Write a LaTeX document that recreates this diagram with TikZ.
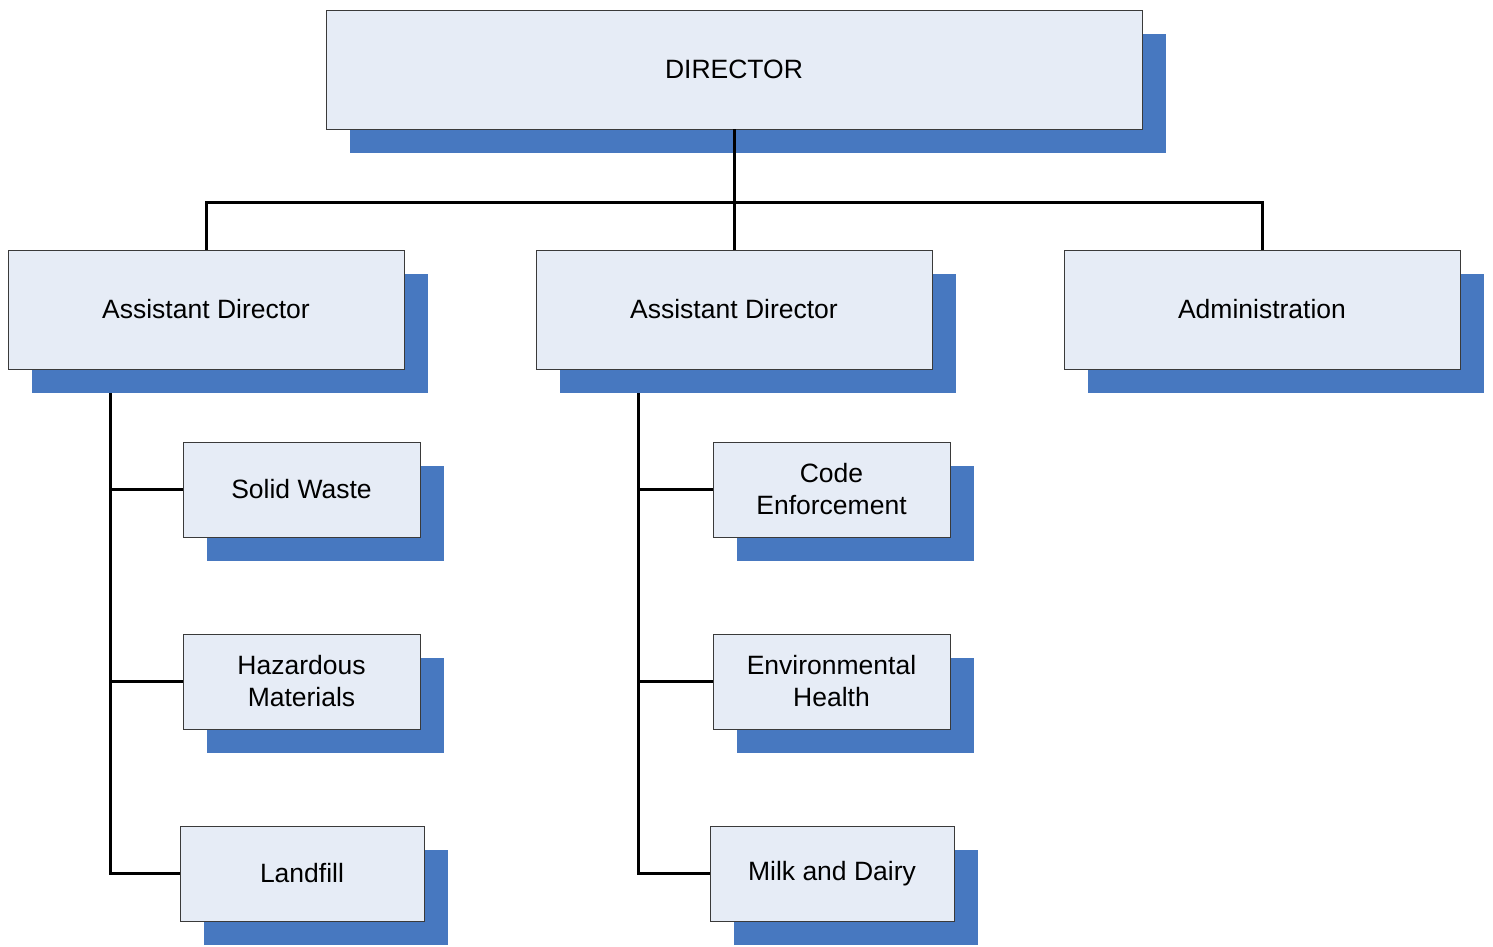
\documentclass[tikz,border=0pt]{standalone}
\usepackage{fontspec}
\setmainfont{Liberation Sans}
\usetikzlibrary{shadows}
\definecolor{boxfill}{HTML}{E6ECF6}
\definecolor{shd}{HTML}{4778C0}
\definecolor{boxline}{HTML}{3A3A3A}
\tikzset{
  box/.style={draw=boxline, line width=1pt, fill=boxfill, inner sep=0pt, outer sep=0pt,
    align=center, font=\fontsize{26.5}{32}\selectfont,
    general shadow={fill=shd, shadow xshift=24pt, shadow yshift=-24pt}},
  conn/.style={line width=3pt, black}
}
\begin{document}
\begin{tikzpicture}[x=1pt,y=-1pt]
\useasboundingbox (0,0) rectangle (1493,946);
\node[box, minimum width=816pt, minimum height=119pt] (dir) at (734,69.5) {DIRECTOR};
\node[box, minimum width=396pt, minimum height=119pt] (ad1) at (206,309.5) {Assistant Director};
\node[box, minimum width=396pt, minimum height=119pt] (ad2) at (734,309.5) {Assistant Director};
\node[box, minimum width=396pt, minimum height=119pt] (adm) at (1262,309.5) {Administration};
\node[box, minimum width=237pt, minimum height=95pt] (sw) at (301.5,489.5) {Solid Waste};
\node[box, minimum width=237pt, minimum height=95pt] (hz) at (301.5,681.5) {Hazardous\\Materials};
\node[box, minimum width=244pt, minimum height=95pt] (lf) at (302,873.5) {Landfill};
\node[box, minimum width=237pt, minimum height=95pt] (ce) at (831.5,489.5) {Code\\Enforcement};
\node[box, minimum width=237pt, minimum height=95pt] (eh) at (831.5,681.5) {Environmental\\Health};
\node[box, minimum width=244pt, minimum height=95pt] (md) at (832,873.5) {Milk and Dairy};
\coordinate (bus) at (734,202);
\draw[conn] (dir.south) -- (bus);
\draw[conn] (ad1.north) |- (bus) -| (adm.north);
\draw[conn] (bus) -- (ad2.north);
\coordinate (l0) at (110,393);
\draw[conn] (l0) |- (lf.west);
\draw[conn] (l0 |- sw.west) -- (sw.west);
\draw[conn] (l0 |- hz.west) -- (hz.west);
\coordinate (r0) at (638,393);
\draw[conn] (r0) |- (md.west);
\draw[conn] (r0 |- ce.west) -- (ce.west);
\draw[conn] (r0 |- eh.west) -- (eh.west);
\end{tikzpicture}
\end{document}
